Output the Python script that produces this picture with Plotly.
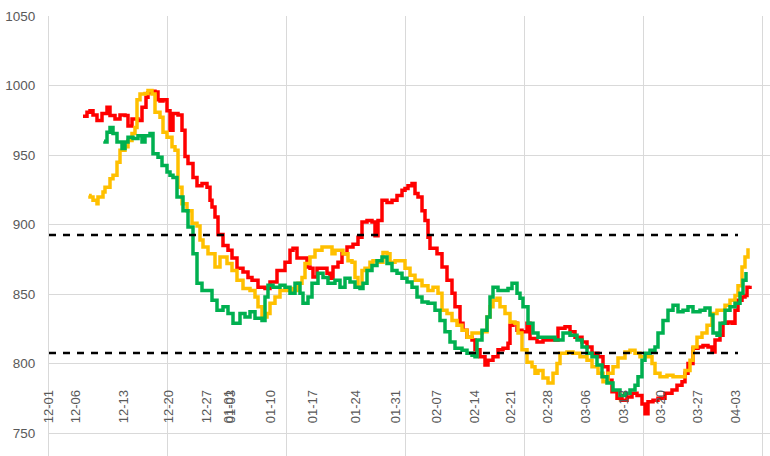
import plotly.graph_objects as go

# ---- data (x = observation index, y = price) ----
red_x = [34, 38, 41, 44, 48, 53, 58, 61, 66, 71, 76, 79, 83, 89, 93, 97, 99, 103, 106, 109, 111, 114, 118, 121, 124, 129, 133,
         136, 139, 144, 148, 153, 158, 161, 163, 166, 169, 174, 179, 183, 188, 194, 199, 203, 209, 216, 221, 228, 236, 241,
         244, 248, 253, 258, 261, 264, 268, 274, 278, 281, 284, 289, 293, 298, 304, 309, 313, 318, 323, 326, 329, 333, 338,
         343, 348, 353, 356, 359, 363, 366, 369, 373, 376, 379, 381, 388, 393, 398, 403, 406, 411, 414, 418, 423, 426, 431,
         436, 439, 444, 449, 454, 459, 461, 464, 468, 473, 478, 481, 488, 494, 501, 509, 516, 521, 526, 533, 538, 543, 549,
         554, 559, 563, 568, 573, 578, 583, 588, 593, 596, 599, 604, 609, 616, 623, 628, 633, 636, 639, 644, 649, 654, 659,
         663, 666, 671, 674, 679, 683, 686, 689, 693, 696, 698, 701]
red_y = [978, 981, 982, 979, 975, 980, 984.6, 978.6, 976, 979, 978.6, 971, 976, 975, 984.6, 991.8, 995, 996, 995.5, 990,
         989, 990, 982, 968, 980, 979, 968, 949, 944, 934, 928, 929.6, 927, 917.5, 912.7, 905.5, 893, 885, 881.6, 876,
         868.6, 866, 862, 860, 855, 854, 858.8, 867, 873, 881.6, 883, 876, 876, 869.6, 868.6, 862.4, 868.6, 868.6, 865,
         861.4, 869.6, 873, 879, 884, 886, 891, 902, 903, 902, 892, 903, 917.5, 916, 917.5, 921, 924.7, 926, 928, 929.7,
         922.5, 920, 910, 903, 891, 883, 879, 869.6, 860, 850.6, 841, 829, 824, 819, 817, 810, 805, 799, 802.5, 805, 810,
         811, 814.6, 827.6, 829, 824, 823, 829, 818, 815.6, 817, 817, 825.5, 826.5, 823, 819, 815.6, 812, 807.5, 805,
         797.7, 788, 779.7, 775, 773.7, 776, 778.7, 777, 771, 764, 772.5, 773.7, 775, 778.7, 781, 784.5, 787, 793, 800,
         811, 812, 813, 812, 808.4, 817, 820.5, 829, 830, 829, 838.4, 845.6, 848, 849, 855, 856]

orange_x = [40, 41, 44, 48, 49, 54, 56, 61, 64, 68, 71, 76, 79, 83, 86, 88, 91, 96, 99, 103, 106, 111, 114, 118, 123, 126,
            129, 133, 138, 143, 148, 151, 154, 159, 163, 166, 171, 178, 183, 188, 194, 201, 206, 209, 213, 218, 221, 226,
            231, 236, 241, 244, 249, 253, 256, 261, 266, 273, 278, 283, 286, 291, 294, 299, 303, 306, 309, 313, 316, 321,
            324, 329, 334, 338, 341, 346, 351, 356, 361, 366, 373, 379, 384, 389, 393, 398, 403, 408, 413, 418, 423, 428,
            433, 438, 441, 444, 448, 451, 456, 461, 466, 469, 473, 478, 483, 486, 489, 494, 499, 504, 508, 511, 518, 524,
            531, 538, 543, 549, 554, 559, 564, 569, 576, 581, 586, 591, 598, 603, 606, 611, 618, 624, 631, 636, 641, 644,
            648, 653, 658, 663, 668, 673, 676, 681, 686, 689, 693, 696, 699]
orange_y = [921, 920, 917.5, 915, 920, 923.5, 927, 933, 935.5, 945, 953.5, 956, 960.6, 965.6, 970, 990, 994, 994.4, 996.6,
            994, 981, 977.4, 966.6, 963, 956, 953.5, 927, 915, 910, 901, 899, 889, 884, 879, 879, 869.6, 876.7, 872, 867,
            860, 854, 852.6, 848, 841, 833.6, 836, 843.5, 848, 852.6, 852.6, 854, 852.6, 857.8, 862, 872, 876.7, 881.6,
            884, 884, 879, 881.6, 881.6, 879, 874, 873, 862, 855, 867, 868.6, 873, 874, 873, 880, 879, 873, 874, 874,
            868.6, 863.6, 860, 856, 852.6, 855, 850.6, 838.4, 836, 831, 827.6, 824, 819, 822, 822, 823, 833.6, 841, 845.6,
            847, 841, 836, 830, 829, 822, 810, 801, 797.7, 793, 795, 789.6, 786, 793, 800, 807.5, 808.4, 807.5, 805,
            802.5, 797.7, 793, 787, 793, 797.7, 804, 808.4, 809.7, 807.5, 805, 805, 800, 793, 790.5, 791.7, 790.5,
            790.5, 795, 802.5, 812, 819, 822, 827.6, 836, 838.4, 838.4, 842, 845.6, 849, 856, 869.6, 876.7, 883]

green_x = [55, 56, 58, 61, 64, 68, 73, 76, 79, 84, 89, 93, 96, 101, 104, 109, 113, 118, 121, 124, 128, 134, 139, 144, 148,
           153, 159, 163, 168, 174, 179, 184, 191, 196, 201, 206, 213, 216, 219, 224, 231, 236, 241, 246, 251, 254, 259,
           263, 269, 274, 279, 286, 291, 296, 301, 306, 311, 314, 318, 323, 328, 333, 338, 343, 348, 353, 358, 363, 368,
           373, 379, 386, 391, 396, 401, 406, 413, 418, 423, 426, 428, 433, 438, 441, 444, 449, 454, 459, 463, 468, 471,
           474, 479, 484, 489, 498, 506, 514, 521, 528, 533, 538, 543, 548, 553, 558, 564, 571, 576, 581, 586, 589, 593,
           596, 601, 606, 609, 614, 619, 624, 629, 634, 639, 644, 651, 656, 661, 664, 668, 671, 676, 681, 686, 691, 694,
           697]
green_y = [960, 959.5, 966.6, 970, 965.6, 959.5, 954.9, 959.5, 963, 962, 964, 959.5, 964, 965.6, 951, 948.6, 942.6, 938,
           935.5, 934, 920, 910, 898.4, 879, 857.8, 852.6, 852.6, 845.6, 838.4, 841, 836, 829, 836, 833.6, 837.4, 832.6,
           831, 848, 856.4, 855, 856.4, 855, 850.6, 857.8, 850.6, 843.5, 848, 857.8, 865, 862, 857.8, 860, 855, 861.4,
           858.8, 855, 854, 857.8, 867, 870.7, 874, 876.7, 872, 867, 865, 861.4, 858.8, 855, 848, 844.4, 843.5, 838.4,
           831, 823, 815.6, 811, 809.7, 807.5, 806, 805, 817, 824, 833.6, 848, 855, 852.6, 852.6, 854, 857.8, 850.6, 847,
           841, 829, 822, 819, 819, 817, 822, 820.5, 817, 812, 807.5, 805, 799, 790.5, 786, 781, 777, 778.7, 781, 784.5,
           790.5, 802.5, 807.5, 809.7, 812, 822, 831, 838.4, 842, 837.4, 838.4, 841, 837.4, 838.4, 840, 835, 822, 820.5,
           829, 838.4, 841, 843.5, 850.6, 860, 866]

band_x = [0, 689]
upper_band = [892.5, 892.5]
lower_band = [807.6, 807.6]

tick_pos = [0, 27, 75, 120, 158, 180, 182, 222, 264, 307, 347, 388, 426, 462, 499, 537, 575, 612, 649, 687]
tick_text = ["12-01", "12-06", "12-13", "12-20", "12-27", "01-01", "01-03", "01-10", "01-17", "01-24", "01-31",
             "02-07", "02-14", "02-21", "02-28", "03-06", "03-13", "03-20", "03-27", "04-03"]

y_ticks = [750, 800, 850, 900, 950, 1000, 1050]

fig = go.Figure()
lw = 3.5
fig.add_trace(go.Scatter(x=red_x, y=red_y, mode="lines", line=dict(color="#FF0000", width=lw, shape="hv")))
fig.add_trace(go.Scatter(x=orange_x, y=orange_y, mode="lines", line=dict(color="#FFC000", width=lw, shape="hv")))
fig.add_trace(go.Scatter(x=green_x, y=green_y, mode="lines", line=dict(color="#00B050", width=lw, shape="hv")))
for b in (upper_band, lower_band):
    fig.add_trace(go.Scatter(x=band_x, y=b, mode="lines", line=dict(color="#000000", width=2.5, dash="7px,7px")))

grid_col = "#D9D9D9"
fig.update_layout(
    width=770, height=456,
    margin=dict(l=49, r=0, t=16, b=0),
    paper_bgcolor="white", plot_bgcolor="white",
    showlegend=False,
    font=dict(family="Liberation Sans, Arial, sans-serif", size=13, color="#595959"),
    xaxis=dict(
        range=[0, 721], anchor="free", position=0.158,
        tickmode="array", tickvals=tick_pos, ticktext=tick_text, tickangle=-90,
        showgrid=False, zeroline=False, showline=False, ticks="",
        tickfont=dict(size=13, color="#595959"),
        minor=dict(tickmode="array", tickvals=[i * 713 / 6 for i in range(7)],
                   showgrid=True, gridcolor=grid_col, gridwidth=1, ticks=""),
    ),
    yaxis=dict(
        range=[733.5, 1050.2], tickmode="array", tickvals=y_ticks,
        showgrid=True, gridcolor=grid_col, gridwidth=1, zeroline=False,
        showline=True, linecolor=grid_col, linewidth=1,
        ticks="", ticklabelstandoff=10,
        tickfont=dict(size=13.5, color="#595959"),
    ),
)

fig.write_html("out.html")
